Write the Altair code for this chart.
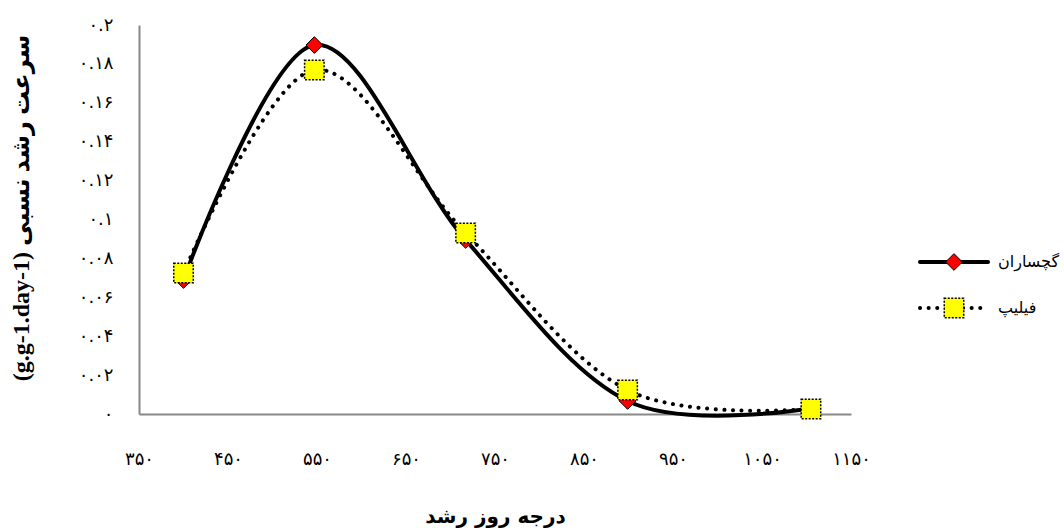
import altair as alt
import pandas as pd

# ---- data ----
gdd = [400, 547, 717, 899, 1105]
gachsaran = [0.0689, 0.1897, 0.0895, 0.0067, 0.0030]
philip = [0.0725, 0.1769, 0.0930, 0.0123, 0.0026]
series_names = ["گچساران", "فیلیپ"]
x_ticks = [350, 450, 550, 650, 750, 850, 950, 1050, 1150]
y_ticks = [0, 0.02, 0.04, 0.06, 0.08, 0.1, 0.12, 0.14, 0.16, 0.18, 0.2]
x_title = "درجه روز رشد"
y_title = "(g.g-1.day-1) سرعت رشد نسبی"
persian_digits = "۰۱۲۳۴۵۶۷۸۹"


def fa_expr(base):
    e = base
    for d, p in enumerate(persian_digits):
        e = f"replace({e}, regexp('{d}', 'g'), '{p}')"
    return e


df_g = pd.DataFrame({"x": gdd, "y": gachsaran})
df_p = pd.DataFrame({"x": gdd, "y": philip})

W, H = 712, 389
PAD_L, PAD_T = 139, 25

x_enc = alt.X(
    "x:Q",
    scale=alt.Scale(domain=[350, 1150], nice=False, zero=False),
    axis=alt.Axis(
        values=x_ticks, format="d", labelExpr=fa_expr("datum.label"),
        grid=False, ticks=False, tickSize=0, labelPadding=45, labelFlush=False,
        labelBaseline="middle", labelFontSize=18, labelFont="DejaVu Sans",
        labelColor="black", domainColor="#888888", domainWidth=2,
        title=x_title, titleFont="DejaVu Sans", titleFontSize=20,
        titleFontWeight="bold", titleY=108, titleBaseline="alphabetic",
        titleColor="black", labelOverlap=False,
    ),
)
y_enc = alt.Y(
    "y:Q",
    scale=alt.Scale(domain=[0, 0.2], nice=False),
    axis=alt.Axis(
        values=y_ticks, format=".2~f", labelExpr=fa_expr("datum.label"),
        grid=False, ticks=False, tickSize=0, labelPadding=26, labelFlush=False,
        labelFontSize=18, labelFont="DejaVu Sans", labelColor="black",
        domainColor="#888888", domainWidth=2,
        title=y_title, titleFont="Liberation Serif, DejaVu Sans",
        titleFontSize=24, titleFontWeight="bold", titleX=-118, titleY=H / 2 - 12,
        titleAlign="center", titleBaseline="middle", titleColor="black",
        labelOverlap=False,
    ),
)

line_g = alt.Chart(df_g).mark_line(
    interpolate="cardinal", color="black", strokeWidth=4, strokeCap="round"
).encode(x=x_enc, y=y_enc)
line_p = alt.Chart(df_p).mark_line(
    interpolate="cardinal", color="black", strokeWidth=4,
    strokeDash=[0.1, 8.5], strokeCap="round"
).encode(x=x_enc, y=y_enc)

diamond_style = dict(shape="diamond", filled=True, fill="#ff0000", stroke="black",
                     strokeWidth=1, size=280, opacity=1)
square_style = dict(shape="square", filled=True, fill="#ffff00", stroke="black",
                    strokeWidth=1.5, strokeDash=[2, 1.5], size=380, opacity=1)

pts_g = alt.Chart(df_g).mark_point(**diamond_style).encode(x=x_enc, y=y_enc)
pts_p = alt.Chart(df_p).mark_point(**square_style).encode(x=x_enc, y=y_enc)

# ---- legend drawn as marks on the right ----
legend_layers = []
line_styles = [dict(strokeWidth=4), dict(strokeWidth=4, strokeDash=[0.1, 8.5])]
marker_styles = [diamond_style, square_style]
for i, name in enumerate(series_names):
    ly = 237 + i * 46
    ldf = pd.DataFrame({"name": [name]})
    base = alt.Chart(ldf)
    legend_layers.append(
        base.mark_rule(color="black", strokeCap="round", **line_styles[i]).encode(
            x=alt.value(781), x2=alt.value(849), y=alt.value(ly)
        )
    )
    legend_layers.append(
        base.mark_point(**marker_styles[i]).encode(x=alt.value(815), y=alt.value(ly))
    )
    legend_layers.append(
        base.mark_text(align="left", baseline="middle", fontSize=16,
                       font="DejaVu Sans", color="black").encode(
            x=alt.value(859), y=alt.value(ly), text="name:N"
        )
    )

chart = alt.layer(line_p, line_g, pts_g, pts_p, *legend_layers).properties(
    width=W,
    height=H,
    autosize=alt.AutoSizeParams(type="none"),
    padding={"left": PAD_L, "top": PAD_T, "right": 1064 - PAD_L - W,
             "bottom": 528 - PAD_T - H},
    background="white",
).configure_view(stroke=None)

chart.save("out.html", embed_options={"renderer": "svg", "actions": False})
